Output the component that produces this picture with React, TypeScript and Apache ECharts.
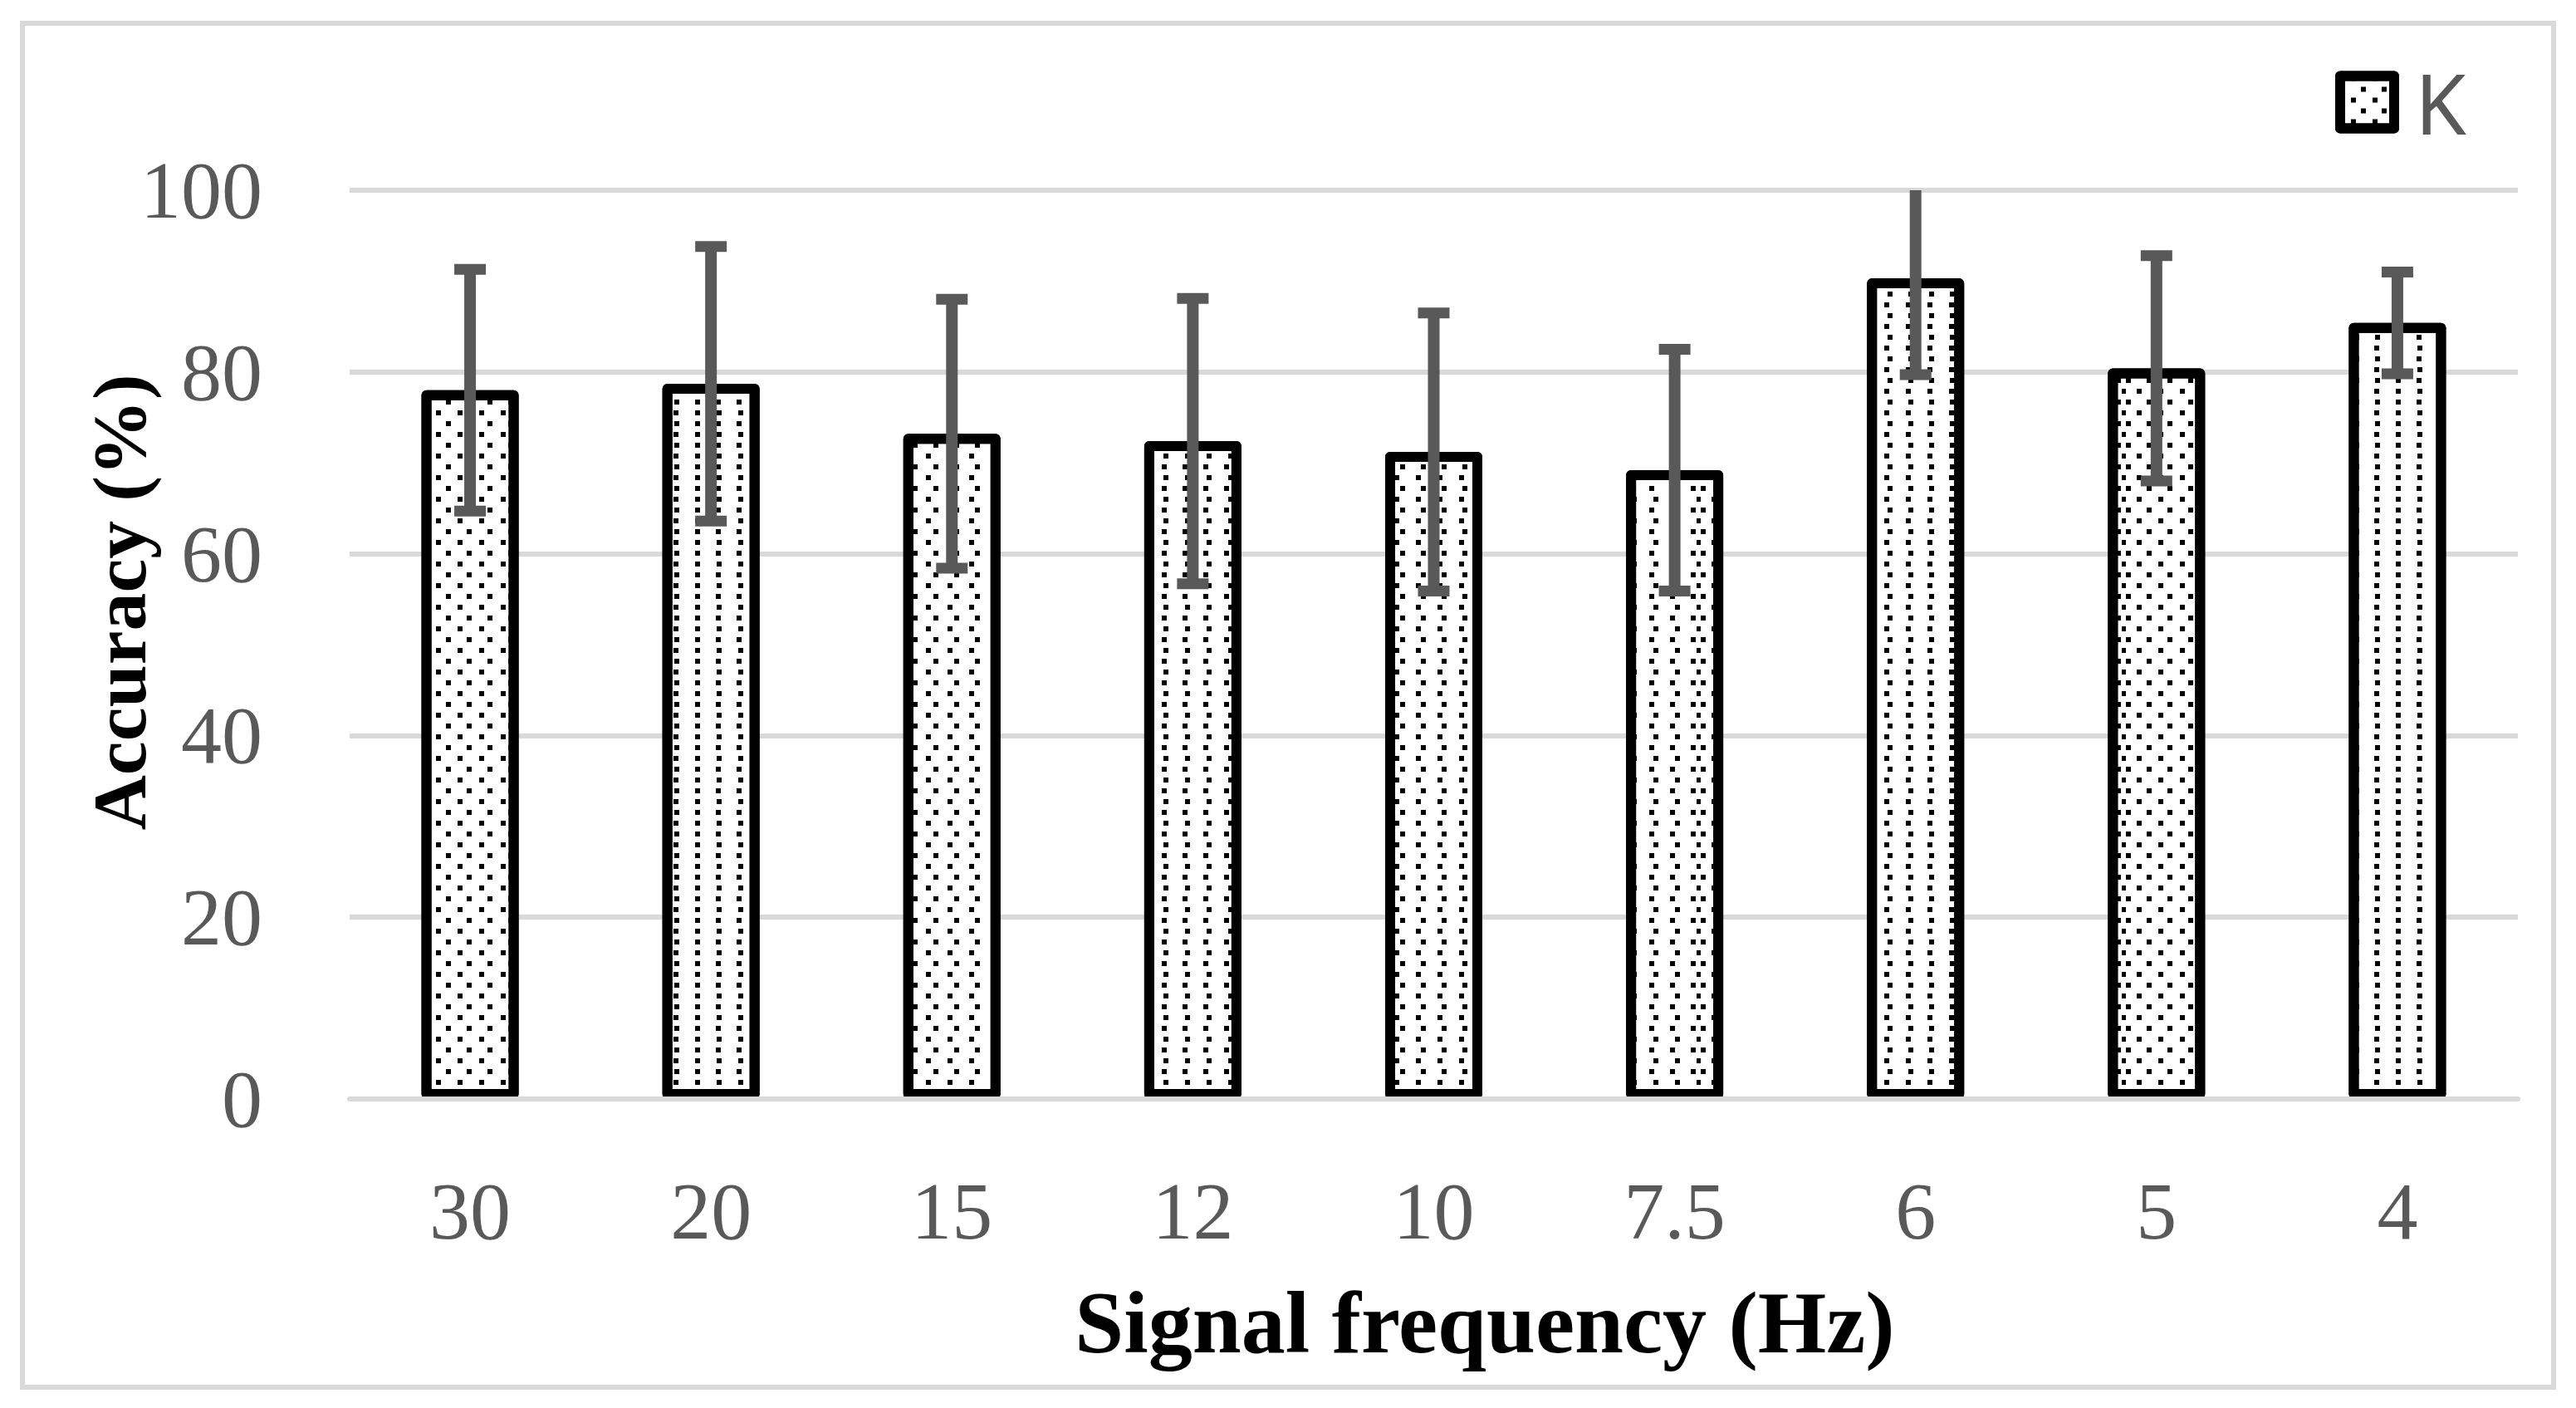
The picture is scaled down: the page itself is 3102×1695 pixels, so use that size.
import React, { useEffect, useRef } from 'react';
import * as echarts from 'echarts';

// ---- data ----
const categories: string[] = ['30', '20', '15', '12', '10', '7.5', '6', '5', '4'];
const accuracy: number[] = [78.0, 78.7, 73.2, 72.4, 71.2, 69.2, 90.3, 80.4, 85.4];
const stdDev: number[] = [13.3, 15.1, 14.8, 15.7, 15.3, 13.3, 10.6, 12.4, 5.6];
const yMin = 0;
const yMax = 100;
const yInterval = 20;
const seriesName = 'K';
const xTitle = 'Signal frequency (Hz)';
const yTitle = 'Accuracy (%)';

const SERIF = '"Liberation Serif", "DejaVu Serif", serif';

export default function App() {
  const ref = useRef<HTMLDivElement>(null);

  useEffect(() => {
    if (!ref.current) return;
    const chart = echarts.init(ref.current, null, { renderer: 'svg' });

    const errorData = accuracy.map((m, i) => [i, m - stdDev[i], m + stdDev[i]]);

    const option: any = {
      animation: false,
      backgroundColor: '#ffffff',
      grid: { left: 421, right: 70, top: 229, bottom: 372, containLabel: false },
      legend: {
        data: [seriesName],
        left: 2807,
        top: 68,
        icon: 'rect',
        itemWidth: 65,
        itemHeight: 63,
        itemStyle: { borderWidth: 12, borderColor: '#000000' },
        textStyle: {
          fontSize: 100,
          lineHeight: 100,
          color: '#595959',
          fontFamily: '"Noto Sans", "Open Sans", sans-serif',
          padding: [0, 0, 0, 20],
        },
      },
      xAxis: {
        type: 'category',
        data: categories,
        z: 3,
        axisLine: { show: true, lineStyle: { color: '#d9d9d9', width: 6 } },
        axisTick: { show: false },
        axisLabel: { fontSize: 98, color: '#595959', fontFamily: SERIF, margin: 86 },
        splitLine: { show: false },
      },
      yAxis: {
        type: 'value',
        min: yMin,
        max: yMax,
        interval: yInterval,
        axisLine: { show: false },
        axisTick: { show: false },
        axisLabel: { fontSize: 98, color: '#595959', fontFamily: SERIF, margin: 105 },
        splitLine: { show: true, lineStyle: { color: '#d9d9d9', width: 6 } },
      },
      series: [
        {
          name: seriesName,
          type: 'bar',
          data: accuracy,
          barWidth: 117,
          z: 2,
          itemStyle: {
            color: '#ffffff',
            borderColor: '#000000',
            borderWidth: 12,
            borderJoin: 'round',
            decal: {
              symbol: 'rect',
              symbolSize: 1,
              color: '#000000',
              backgroundColor: '#ffffff',
              dashArrayX: [[6, 19], [0, 12.5, 6, 6.5]],
              dashArrayY: [6, 6.5],
            },
          },
        },
        {
          name: 'error',
          type: 'custom',
          z: 4,
          data: errorData,
          encode: { x: 0, y: [1, 2] },
          renderItem: (params: any, api: any) => {
            const x = api.value(0);
            const lo = api.value(1);
            const hi = api.value(2);
            const hiC = Math.min(hi, yMax);
            const pHi = api.coord([x, hiC]);
            const pLo = api.coord([x, lo]);
            const capHalf = 19;
            const st = { stroke: '#595959', lineWidth: 14 };
            const cs = { stroke: '#595959', lineWidth: 13 };
            const children: any[] = [
              { type: 'line', shape: { x1: pHi[0], y1: pHi[1], x2: pLo[0], y2: pLo[1] }, style: st },
              { type: 'line', shape: { x1: pLo[0] - capHalf, y1: pLo[1], x2: pLo[0] + capHalf, y2: pLo[1] }, style: cs },
            ];
            if (hi <= yMax) {
              children.push({ type: 'line', shape: { x1: pHi[0] - capHalf, y1: pHi[1], x2: pHi[0] + capHalf, y2: pHi[1] }, style: cs });
            }
            return { type: 'group', children };
          },
        },
      ],
      graphic: [
        {
          type: 'rect',
          shape: { x: 27, y: 28, width: 3048, height: 1642 },
          style: { fill: 'none', stroke: '#d9d9d9', lineWidth: 6 },
          silent: true,
        },
        {
          type: 'text',
          x: 144,
          y: 725,
          rotation: Math.PI / 2,
          style: {
            text: yTitle,
            fontSize: 92,
            fontWeight: 'bold',
            fontFamily: SERIF,
            fill: '#000000',
            textAlign: 'center',
            textVerticalAlign: 'middle',
          },
        },
        {
          type: 'text',
          x: 1788,
          y: 1592,
          style: {
            text: xTitle,
            fontSize: 106,
            fontWeight: 'bold',
            fontFamily: SERIF,
            fill: '#000000',
            textAlign: 'center',
            textVerticalAlign: 'middle',
          },
        },
      ],
    };

    chart.setOption(option);
    return () => chart.dispose();
  }, []);

  return (
    <div
      ref={ref}
      style={{ position: 'absolute', left: 0, top: 0, width: 3102, height: 1695 }}
    />
  );
}
